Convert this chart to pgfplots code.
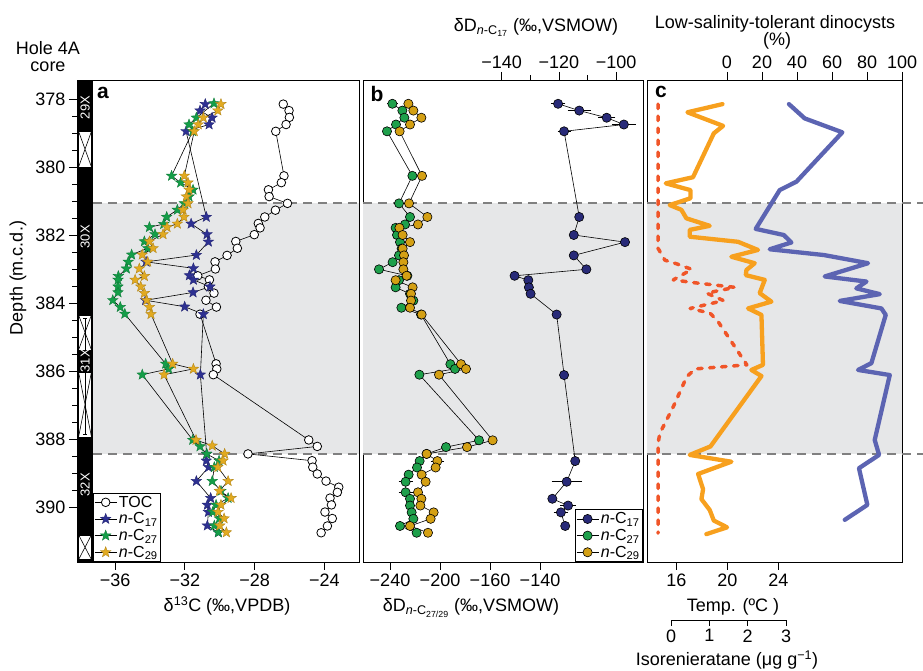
\documentclass[border=0pt]{standalone}
\usepackage{fontspec}
\setmainfont{Liberation Sans}
\usepackage{pgfplots}
\pgfplotsset{compat=1.18}

\definecolor{bandgray}{RGB}{230,231,232}
\definecolor{dashgray}{RGB}{128,128,128}
\definecolor{sblue}{RGB}{46,49,146}
\definecolor{sgreen}{RGB}{20,158,72}
\definecolor{syellow}{RGB}{226,170,32}
\definecolor{bblue}{RGB}{40,42,120}
\definecolor{bgreen}{RGB}{30,160,75}
\definecolor{byellow}{RGB}{212,160,20}
\definecolor{corange}{RGB}{247,160,30}
\definecolor{cpurple}{RGB}{92,100,178}
\definecolor{cred}{RGB}{240,85,40}

\pgfdeclareplotmark{fstar}{%
  \pgfpathmoveto{\pgfpointpolar{90}{\pgfplotmarksize}}%
  \pgfpathlineto{\pgfpointpolar{126}{0.42*\pgfplotmarksize}}%
  \pgfpathlineto{\pgfpointpolar{162}{\pgfplotmarksize}}%
  \pgfpathlineto{\pgfpointpolar{198}{0.42*\pgfplotmarksize}}%
  \pgfpathlineto{\pgfpointpolar{234}{\pgfplotmarksize}}%
  \pgfpathlineto{\pgfpointpolar{270}{0.42*\pgfplotmarksize}}%
  \pgfpathlineto{\pgfpointpolar{306}{\pgfplotmarksize}}%
  \pgfpathlineto{\pgfpointpolar{342}{0.42*\pgfplotmarksize}}%
  \pgfpathlineto{\pgfpointpolar{18}{\pgfplotmarksize}}%
  \pgfpathlineto{\pgfpointpolar{54}{0.42*\pgfplotmarksize}}%
  \pgfpathclose
  \pgfusepathqfillstroke}

\newcommand{\tfont}{\fontsize{18bp}{21bp}\selectfont}

\pgfplotsset{
  base/.style={scale only axis, anchor=south west, y dir=reverse,
    ymin=377.44, ymax=391.62, height=482bp,
    tick align=outside, major tick length=8bp, minor tick length=4.5bp,
    every tick/.style={black, line width=0.8bp},
    axis line style={black, line width=0.9bp},
    tick label style={font=\tfont},
    /pgf/number format/assume math mode=true},
  astar/.style={black, line width=0.6bp, mark=fstar, mark size=5.5bp,
    mark options={solid, fill=#1, draw=#1!80!black, line width=0.4bp}},
  bdot/.style={black, line width=0.6bp, mark=*, mark size=4.6bp,
    mark options={solid, fill=#1, draw=black, line width=0.6bp}},
  ebar/.style={forget plot, draw=none, mark=none,
    error bars/.cd, x dir=both, x explicit,
    error bar style={draw=black, line width=0.8bp},
    error mark options={draw=black, mark size=3bp, line width=0.8bp}},
}

\begin{document}
\begin{tikzpicture}[x=1bp,y=1bp]
\path[use as bounding box] (0,0) rectangle (923,671);

% ---------------- panel a ----------------
\begin{axis}[base, at={(77bp,109bp)}, width=282bp,
  xmin=-38.18, xmax=-22.02,
  xtick={-36,-32,-28,-24}, xticklabels={−36,−32,−28,−24}, xtick pos=bottom,
  ytick={378,380,...,390}, ytick pos=left, minor y tick num=3,
  legend style={at={(axis description cs:0.0567,0)}, anchor=south west,
    draw=black, line width=0.8bp, font=\fontsize{16bp}{18bp}\selectfont,
    inner xsep=1bp, inner ysep=1bp, row sep=0bp, cells={anchor=west}},
  legend image code/.code={\draw[mark repeat=2,mark phase=2,#1] plot coordinates {(0bp,0bp) (11bp,0bp) (22bp,0bp)};}]
\fill[bandgray] (axis cs:-37.26,381.06) rectangle (axis cs:-22.02,388.44);
\draw[dashgray, line width=1.5bp, dash pattern=on 9bp off 6bp] (axis cs:-37.26,381.06) -- (axis cs:-22.02,381.06);
\draw[dashgray, line width=1.5bp, dash pattern=on 9bp off 6bp] (axis cs:-37.26,388.44) -- (axis cs:-22.02,388.44);
% core column
\fill[black] (axis cs:-38.18,377.44) rectangle (axis cs:-37.26,391.62);
\filldraw[fill=white, draw=black, line width=0.6bp] (axis cs:-38.09,378.95) rectangle (axis cs:-37.35,380.0);
\draw[line width=0.6bp] (axis cs:-38.09,378.95) -- (axis cs:-37.35,380.0) (axis cs:-38.09,380.0) -- (axis cs:-37.35,378.95);
\filldraw[fill=white, draw=black, line width=0.6bp] (axis cs:-38.09,384.35) rectangle (axis cs:-37.35,385.38);
\draw[line width=0.6bp] (axis cs:-38.09,384.35) -- (axis cs:-37.35,385.38) (axis cs:-38.09,385.38) -- (axis cs:-37.35,384.35);
\filldraw[fill=white, draw=black, line width=0.6bp] (axis cs:-38.09,386.03) rectangle (axis cs:-37.35,387.94);
\draw[line width=0.6bp] (axis cs:-38.09,386.03) -- (axis cs:-37.35,387.94) (axis cs:-38.09,387.94) -- (axis cs:-37.35,386.03);
\filldraw[fill=white, draw=black, line width=0.6bp] (axis cs:-38.09,390.82) rectangle (axis cs:-37.35,391.55);
\draw[line width=0.6bp] (axis cs:-38.09,390.82) -- (axis cs:-37.35,391.55) (axis cs:-38.09,391.55) -- (axis cs:-37.35,390.82);
\draw[line width=0.6bp] (axis cs:-37.72,384.45) -- (axis cs:-37.72,387.85);
\draw[line width=0.6bp] (axis cs:-37.84,384.45) -- (axis cs:-37.60,384.45);
\draw[line width=0.6bp] (axis cs:-37.84,387.85) -- (axis cs:-37.60,387.85);
\node[rotate=90, text=white, font=\fontsize{13bp}{13bp}\selectfont] at (axis cs:-37.72,378.25) {29X};
\node[rotate=90, text=white, font=\fontsize{13bp}{13bp}\selectfont] at (axis cs:-37.72,382.05) {30X};
\node[rotate=90, text=white, font=\fontsize{13bp}{13bp}\selectfont] at (axis cs:-37.72,385.70) {31X};
\node[rotate=90, text=white, font=\fontsize{13bp}{13bp}\selectfont] at (axis cs:-37.72,389.35) {32X};

\addplot[black, line width=0.6bp, mark=*, mark size=4.3bp, mark options={solid, fill=white, draw=black, line width=0.8bp}] coordinates {
(-26.36,378.15) (-26.03,378.34) (-26.01,378.54) (-26.2,378.75) (-26.79,378.95) (-26.32,380.26) (-26.47,380.46) (-27.21,380.67) (-27.17,380.87) (-26.12,381.07) (-26.81,381.27) (-27.42,381.47) (-27.79,381.66) (-27.69,381.79) (-28.02,381.99) (-29.08,382.19) (-28.99,382.39) (-29.58,382.6) (-30.27,382.79) (-30.25,383.0) (-31.26,383.2) (-30.59,383.32) (-30.65,383.52) (-30.33,383.71) (-30.79,383.92) (-30.19,384.12) (-31.13,384.33) (-30.21,385.79) (-30.17,385.94) (-30.37,386.11) (-24.9,388.03) (-24.41,388.22) (-28.38,388.44) (-24.71,388.64) (-24.67,388.83) (-24.41,389.03) (-23.91,389.24) (-23.18,389.42) (-23.26,389.57) (-23.68,389.74) (-23.6,389.94) (-23.97,390.15) (-23.55,390.34) (-23.83,390.56) (-24.19,390.76)};
\addlegendentry{TOC}
\addplot[astar=sblue] coordinates {
(-30.83,378.15) (-31.13,378.34) (-30.44,378.55) (-30.61,378.75) (-31.93,378.95) (-30.77,381.47) (-31.64,381.67) (-30.73,381.98) (-30.65,382.2) (-31.34,382.59) (-34.22,382.79) (-31.51,382.98) (-31.74,383.19) (-31.51,383.32) (-30.56,383.52) (-31.53,383.69) (-34.25,383.92) (-32.01,384.11) (-30.94,384.33) (-31.11,386.11) (-30.75,388.44) (-30.77,388.64) (-30.64,388.83) (-31.34,389.24) (-30.52,389.74) (-30.71,389.94) (-30.65,390.15) (-30.71,390.55) (-30.08,390.75)};
\addlegendentry{\textit{n}-C\textsubscript{17}}
\addplot[astar=sgreen] coordinates {
(-30.33,378.13) (-31.34,378.55) (-31.76,378.75) (-31.55,378.95) (-32.76,380.26) (-32.24,380.46) (-31.53,380.67) (-31.76,380.87) (-32.03,381.07) (-32.43,381.26) (-33.04,381.47) (-33.21,381.68) (-34.03,381.77) (-33.71,381.98) (-34.32,382.19) (-34.13,382.39) (-35.05,382.58) (-35.24,382.79) (-35.35,382.99) (-35.81,383.21) (-35.83,383.32) (-35.83,383.52) (-35.83,383.69) (-36.13,383.92) (-35.7,384.12) (-35.44,384.32) (-33.1,385.79) (-32.93,385.94) (-34.44,386.11) (-31.55,388.03) (-31.13,388.22) (-30.75,388.44) (-30.04,388.64) (-30.31,388.83) (-30.43,389.24) (-29.93,389.53) (-29.52,389.74) (-30.21,389.94) (-30.4,390.15) (-30.02,390.34) (-30.31,390.55) (-30.08,390.75)};
\addlegendentry{\textit{n}-C\textsubscript{27}}
\addplot[astar=syellow] coordinates {
(-29.93,378.15) (-30.11,378.34) (-30.94,378.55) (-31.23,378.75) (-31.46,378.95) (-32.03,380.26) (-31.82,380.46) (-31.76,380.67) (-31.91,380.87) (-31.82,381.07) (-32.1,381.26) (-32.05,381.47) (-32.43,381.67) (-33.02,381.77) (-33.25,381.98) (-34.03,382.19) (-33.82,382.39) (-34.44,382.58) (-34.13,382.79) (-34.61,382.99) (-34.32,383.21) (-34.85,383.32) (-34.53,383.52) (-34.32,383.71) (-34.19,383.92) (-34.03,384.12) (-33.94,384.33) (-32.7,385.79) (-31.51,385.94) (-33.19,386.11) (-31.36,388.03) (-30.43,388.2) (-29.72,388.44) (-29.81,388.64) (-30.11,388.83) (-29.52,389.24) (-30.02,389.53) (-29.35,389.74) (-29.93,389.94) (-30.1,390.15) (-29.75,390.34) (-30.0,390.55) (-29.62,390.75)};
\addlegendentry{\textit{n}-C\textsubscript{29}}
\end{axis}

% ---------------- panel b (bottom scale) ----------------
\begin{axis}[base, at={(363bp,109bp)}, width=280bp,
  xmin=-261.6, xmax=-37.6,
  xtick={-240,-200,-160,-120}, xticklabels={−240,−200,−160,−140}, xtick pos=bottom,
  ytick=\empty]
\fill[bandgray] (axis cs:-261.6,381.06) rectangle (axis cs:-37.6,388.44);
\draw[dashgray, line width=1.5bp, dash pattern=on 9bp off 6bp] (axis cs:-261.6,381.06) -- (axis cs:-37.6,381.06);
\draw[dashgray, line width=1.5bp, dash pattern=on 9bp off 6bp] (axis cs:-261.6,388.44) -- (axis cs:-37.6,388.44);
\addplot[ebar] coordinates {(-238.1,378.14) +- (2,0) (-227.5,389.26) +- (3.3,0) (-227.5,389.57) +- (3.3,0) (-202.1,388.65) +- (3,0)};
\addplot[bdot=bgreen] coordinates {
(-238.1,378.14) (-230.1,378.34) (-228.5,378.55) (-235.2,378.75) (-242.4,378.95) (-222.1,380.26) (-232.8,381.07) (-224.0,381.47) (-228.0,381.69) (-235.5,381.79) (-234.4,382.0) (-232.0,382.21) (-230.7,382.4) (-232.8,382.6) (-237.9,382.8) (-248.8,383.01) (-226.1,383.2) (-232.8,383.33) (-235.5,383.54) (-224.0,383.73) (-221.3,383.93) (-230.9,384.14) (-215.2,384.34) (-191.7,385.8) (-188.0,385.94) (-216.5,386.11) (-168.8,388.04) (-195.2,388.24) (-210.7,388.44) (-216.3,388.65) (-218.4,388.84) (-225.1,389.05) (-227.5,389.26) (-227.5,389.57) (-224.0,389.76) (-224.0,389.96) (-222.7,390.16) (-221.3,390.35) (-232.0,390.56) (-218.7,390.76)};
\addplot[bdot=byellow] coordinates {
(-225.3,378.14) (-221.3,378.34) (-214.9,378.55) (-224.0,378.75) (-232.3,378.95) (-214.4,380.26) (-224.8,381.07) (-210.1,381.47) (-217.6,381.69) (-232.5,381.79) (-229.9,382.0) (-224.0,382.21) (-229.9,382.4) (-228.8,382.6) (-229.3,382.8) (-229.3,383.01) (-226.7,383.2) (-235.5,383.33) (-221.9,383.54) (-223.2,383.73) (-223.2,383.93) (-224.0,384.14) (-214.7,384.34) (-183.2,385.8) (-179.2,385.94) (-200.8,386.11) (-157.9,388.04) (-178.4,388.24) (-210.7,388.44) (-202.1,388.65) (-203.5,388.84) (-214.7,389.05) (-211.5,389.26) (-217.6,389.57) (-214.9,389.76) (-215.7,389.96) (-205.1,390.16) (-207.5,390.35) (-224.0,390.56) (-209.6,390.76)};
\end{axis}

% ---------------- panel b (top scale, n-C17) ----------------
\begin{axis}[base, at={(363bp,109bp)}, width=280bp,
  xmin=-188.5, xmax=-90.6,
  axis x line*=top, axis y line=none,
  xtick={-140,-120,-100}, xticklabels={−140,−120,−100}, minor xtick={-130,-110},
  xticklabel pos=top,
  legend style={at={(axis description cs:1,0)}, anchor=south east,
    draw=black, line width=0.8bp, font=\fontsize{16bp}{18bp}\selectfont,
    inner xsep=1bp, inner ysep=1bp, row sep=0bp, cells={anchor=west}},
  legend image code/.code={\draw[mark repeat=2,mark phase=2,#1] plot coordinates {(0bp,0bp) (11bp,0bp) (22bp,0bp)};}]
\addplot[ebar] coordinates {(-120.3,378.14) +- (1.5,0) (-112.9,378.34) +- (3,0) (-103.3,378.55) +- (2,0) (-97.3,378.75) +- (3.1,0) (-118.2,378.95) +- (1.2,0) (-117.3,389.26) +- (4.2,0) (-116.8,389.96) +- (1.7,0) (-119.3,390.16) +- (1.5,0)};
\addplot[bdot=bblue] coordinates {
(-120.3,378.14) (-112.9,378.34) (-103.3,378.55) (-97.3,378.75) (-118.2,378.95) (-112.9,381.47) (-114.8,382.0) (-96.9,382.21) (-114.8,382.6) (-110.4,383.01) (-135.5,383.2) (-130.7,383.33) (-130.5,383.54) (-129.9,383.73) (-120.8,384.34) (-118.2,386.12) (-114.3,388.65) (-117.3,389.26) (-122.3,389.76) (-116.8,389.96) (-119.3,390.16) (-117.8,390.56)};
\addlegendentry{\textit{n}-C\textsubscript{17}}
\addlegendimage{bdot=bgreen}
\addlegendentry{\textit{n}-C\textsubscript{27}}
\addlegendimage{bdot=byellow}
\addlegendentry{\textit{n}-C\textsubscript{29}}
\end{axis}

% ---------------- panel c (top scale, dinocysts) ----------------
\begin{axis}[base, at={(647bp,109bp)}, width=255bp, clip=false,
  xmin=-45.7, xmax=100,
  xtick={0,20,...,100}, xtick pos=top, xticklabel pos=top,
  ytick=\empty]
\fill[bandgray] (axis cs:-45.7,381.06) rectangle (axis cs:100,388.44);
\draw[dashgray, line width=1.5bp, dash pattern=on 9bp off 6bp] (axis cs:-45.7,381.06) -- (axis cs:112,381.06);
\draw[dashgray, line width=1.5bp, dash pattern=on 9bp off 6bp] (axis cs:-45.7,388.44) -- (axis cs:112,388.44);
\addplot[cpurple, line width=4.3bp, line join=round, line cap=round, mark=none] coordinates {
(35.4,378.15) (44.4,378.57) (65.9,378.98) (39.7,380.43) (30.1,380.68) (16.4,381.82) (32.4,382.0) (36.8,382.22) (24.4,382.42) (55.4,382.59) (80.6,382.83) (55.8,383.22) (79.7,383.37) (73.9,383.57) (87.3,383.74) (64.4,383.94) (88.2,384.16) (90.7,384.35) (82.5,385.77) (74.9,385.97) (93.0,386.12) (84.4,388.03) (86.9,388.47) (75.4,388.86) (80.2,389.94) (67.3,390.38)};
\end{axis}

% ---------------- panel c (bottom scale, temperature) ----------------
\begin{axis}[base, at={(647bp,109bp)}, width=255bp,
  xmin=13.69, xmax=33.7,
  axis x line*=bottom, axis y line=none,
  xtick={16,20,24}]
\addplot[corange, line width=4.3bp, line join=round, line cap=round, mark=none] coordinates {
(19.61,378.15) (16.86,378.39) (19.66,378.79) (18.93,379.01) (17.3,380.3) (15.16,380.48) (17.1,380.68) (17.1,380.92) (15.47,381.12) (16.39,381.26) (16.78,381.51) (18.61,381.73) (17.04,381.85) (17.04,382.05) (20.83,382.2) (22.4,382.44) (20.31,382.64) (22.14,382.83) (21.49,383.03) (21.44,383.18) (22.93,383.32) (22.53,383.71) (23.45,383.96) (21.62,384.16) (22.67,384.35) (22.79,385.82) (21.88,385.97) (22.67,386.15) (18.67,388.22) (17.04,388.47) (20.31,388.67) (17.7,389.03) (18.09,389.48) (17.96,389.77) (18.61,390.09) (18.93,390.4) (19.97,390.6) (18.35,390.8)};
\end{axis}

% ---------------- panel c (isorenieratane) ----------------
\begin{axis}[base, at={(647bp,109bp)}, width=255bp,
  xmin=-0.287, xmax=6.371, hide axis]
\addplot[cred, line width=3.5bp, line cap=round, line join=round, dash pattern=on 4.5bp off 7.5bp, mark=none] coordinates {
(0,378.15) (0,382.39) (0.18,382.74) (0.49,382.85) (0.88,383.01) (0.4,383.32) (0.92,383.4) (2.01,383.54) (1.27,383.71) (1.71,383.93) (0.84,384.16) (1.36,384.3) (1.57,384.55) (2.32,385.82) (0.97,385.94) (0.75,386.17) (0.4,387.05) (0.05,387.83) (0,388.13) (0,390.77)};
\end{axis}

\begin{axis}[scale only axis, at={(671bp,51bp)}, anchor=south west, width=115bp, height=2bp,
  xmin=0, xmax=3, ymin=0, ymax=1, axis x line*=bottom, axis y line=none,
  xtick={0,1,2,3}, tick align=outside, major tick length=6bp,
  every tick/.style={black, line width=0.8bp}, axis line style={black, line width=0.9bp},
  tick label style={font=\tfont}, /pgf/number format/assume math mode=true]
\end{axis}

% ---------------- labels ----------------
\node[anchor=base, font=\tfont] at (48,616) {Hole 4A};
\node[anchor=base, font=\tfont] at (48,599) {core};
\node[rotate=90, font=\tfont] at (18,393) {Depth (m.c.d.)};
\node[anchor=base, font=\tfont] at (227,59) {δ\textsuperscript{13}C (‰,VPDB)};
\node[anchor=base, font=\tfont] at (471,59) {δD\textsubscript{\textit{n}-C\textsubscript{27/29}} (‰,VSMOW)};
\node[anchor=base, font=\tfont] at (536,639) {δD\textsubscript{\textit{n}-C\textsubscript{17}} (‰,VSMOW)};
\node[anchor=base, font=\tfont] at (775,642) {Low-salinity-tolerant dinocysts};
\node[anchor=base, font=\tfont] at (777,625) {(\%)};
\node[anchor=base, font=\tfont] at (733,59) {Temp. (ºC )};
\node[anchor=base, font=\tfont] at (727,5) {Isorenieratane (μg g\textsuperscript{−1})};
\node[font=\bfseries\fontsize{21bp}{21bp}\selectfont] at (103,578) {a};
\node[font=\bfseries\fontsize{21bp}{21bp}\selectfont] at (377,577) {b};
\node[font=\bfseries\fontsize{21bp}{21bp}\selectfont] at (661,579) {c};
\end{tikzpicture}
\end{document}
